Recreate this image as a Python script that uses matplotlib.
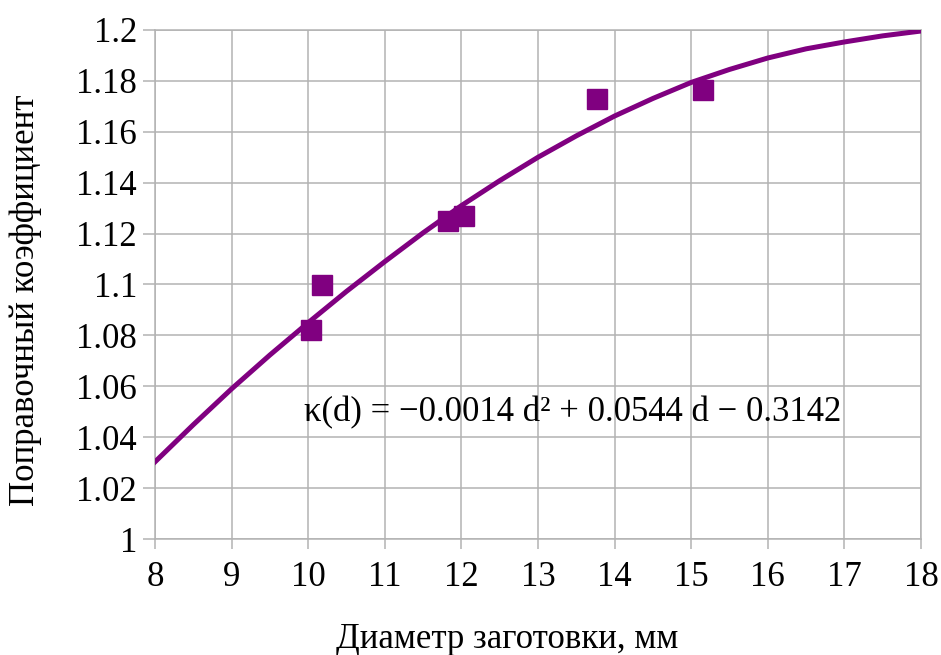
import matplotlib.pyplot as plt

# measured points
d_pts = [10.04, 10.18, 11.83, 12.04, 13.77, 15.15]
k_pts = [1.082, 1.0999, 1.1249, 1.127, 1.173, 1.1766]

# trend line
d_fit = [8, 8.5, 9, 9.5, 10, 10.5, 11, 11.5, 12, 12.5, 13, 13.5, 14,
         14.5, 15, 15.5, 16, 16.5, 17, 17.5, 18]
k_fit = [1.0303, 1.0449, 1.0590, 1.0723, 1.0850, 1.0973, 1.1090, 1.1203,
         1.1310, 1.1408, 1.1500, 1.1584, 1.1662, 1.1731, 1.1794, 1.1845,
         1.1890, 1.1926, 1.1953, 1.1977, 1.1996]

x_ticks = list(range(8, 19))
y_ticks = [1, 1.02, 1.04, 1.06, 1.08, 1.1, 1.12, 1.14, 1.16, 1.18, 1.2]
y_labels = ['1', '1.02', '1.04', '1.06', '1.08', '1.1', '1.12', '1.14', '1.16', '1.18', '1.2']

plt.rcParams['font.family'] = ['Liberation Serif', 'DejaVu Serif']
purple = '#800080'
grey = '#b3b3b3'
fs = 25

fig = plt.figure(figsize=(9.41, 6.55), dpi=100)
ax = fig.add_axes([155 / 941, 1 - 539 / 655, (921 - 155) / 941, (539 - 30) / 655])

ax.plot(d_fit, k_fit, color=purple, lw=3.6, solid_joinstyle='round', zorder=3)
ax.plot(d_pts, k_pts, 's', color=purple, markersize=14.4, zorder=4)

ax.text(9.95, 1.0495, 'κ(d) = −0.0014 d² + 0.0544 d − 0.3142',
        fontsize=fs, ha='left', va='center', color='black', zorder=5)

ax.set_xlim(8, 18)
ax.set_ylim(1, 1.2)
ax.set_xticks(x_ticks)
ax.set_yticks(y_ticks)
ax.set_yticklabels(y_labels)
ax.grid(True, color=grey, lw=1.1)
ax.set_axisbelow(True)
for s in ax.spines.values():
    s.set_color(grey)
    s.set_linewidth(1.1)
ax.tick_params(axis='both', colors=grey, labelcolor='black', labelsize=fs,
               width=1.1)
ax.tick_params(axis='y', length=9, pad=4)
ax.tick_params(axis='x', length=7, pad=9)

ax.set_xlabel('Диаметр заготовки, мм', fontsize=fs, va='center')
ax.set_ylabel('Поправочный коэффициент', fontsize=fs, va='center')
ax.xaxis.set_label_coords(0.4595, -0.198)
ax.yaxis.set_label_coords(-0.1697, 0.4696)

fig.savefig('out.png', dpi=100)
